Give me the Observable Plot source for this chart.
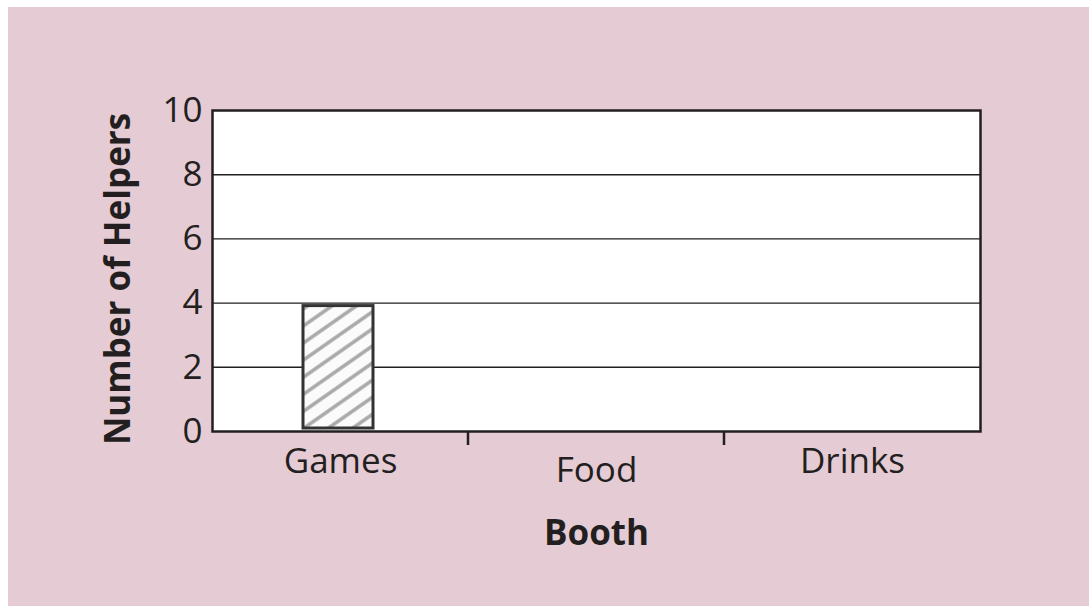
<!DOCTYPE html>
<html>
<head>
<meta charset="utf-8">
<script src="https://cdn.jsdelivr.net/npm/d3@7"></script>
<script src="https://cdn.jsdelivr.net/npm/@observablehq/plot@0.6"></script>
<style>
  html, body { margin: 0; padding: 0; background: #ffffff; }
  #wrap { position: relative; width: 1089px; height: 606px; overflow: hidden; background: #ffffff; }
  #panel { position: absolute; left: 8px; top: 7px; width: 1081px; height: 599px; background: #e5cbd4; }
  #chart { position: absolute; left: 0; top: 0; }
</style>
</head>
<body>
<div id="wrap"><div id="panel"></div><div id="chart"></div></div>
<script>
const booths = ["Games", "Food", "Drinks"];
const helpers = [4, null, null];
const yTicks = [0, 2, 4, 6, 8, 10];
const xTitle = "Booth";
const yTitle = "Number of Helpers";

const data = booths
  .map((b, i) => ({booth: b, helpers: helpers[i]}))
  .filter(d => d.helpers != null);

const ink = "#231f20";

function separators(index, scales, values, dims) {
  const g = d3.create("svg:g");
  const y0 = dims.height - dims.marginBottom;
  booths.slice(1).forEach(b => {
    const x = scales.x(b);
    g.append("line")
      .attr("x1", x).attr("x2", x)
      .attr("y1", y0).attr("y2", y0 + 14)
      .attr("stroke", ink).attr("stroke-width", 2.5);
  });
  return g.node();
}

const chart = Plot.plot({
  width: 1089,
  height: 606,
  marginLeft: 212,
  marginRight: 109,
  marginTop: 110,
  marginBottom: 175,
  style: {background: "transparent", fontFamily: "'Open Sans', sans-serif", color: ink, fontSize: "35px"},
  x: {domain: booths, padding: 0, label: null},
  y: {domain: [0, 10], label: null},
  marks: [
    Plot.frame({fill: "white", stroke: "none"}),
    Plot.gridY(yTicks.slice(1, -1), {stroke: ink, strokeOpacity: 1, strokeWidth: 1.4}),
    Plot.barY(data, {x: "booth", y: "helpers", insetLeft: 91, insetRight: 95, insetTop: 3, insetBottom: 3,
      fill: "url(#hatch)", stroke: "#333", strokeWidth: 3}),
    Plot.frame({stroke: ink, strokeWidth: 2.5}),
    separators,
    Plot.axisY({ticks: yTicks, tickSize: 0, tickPadding: 10, fontSize: 35, label: null}),
    Plot.axisX({ticks: ["Games", "Drinks"], tickSize: 0, tickPadding: 17, fontSize: 35, label: null}),
    Plot.axisX({ticks: ["Food"], tickSize: 0, tickPadding: 26, fontSize: 35, label: null}),
    Plot.text([yTitle], {frameAnchor: "left", textAnchor: "middle", lineAnchor: "middle", rotate: -90, dx: -94, dy: 8,
      fontWeight: "bold", fontSize: 35, fill: ink}),
    Plot.text([xTitle], {frameAnchor: "bottom", dy: 102, lineAnchor: "middle", fontWeight: "bold", fontSize: 35, fill: ink})
  ]
});

// hatch pattern for the bar
const ns = "http://www.w3.org/2000/svg";
const defs = document.createElementNS(ns, "defs");
const pat = document.createElementNS(ns, "pattern");
pat.setAttribute("id", "hatch");
pat.setAttribute("patternUnits", "userSpaceOnUse");
pat.setAttribute("width", "14");
pat.setAttribute("height", "14");
pat.setAttribute("patternTransform", "rotate(-35)");
const bg = document.createElementNS(ns, "rect");
bg.setAttribute("width", "14"); bg.setAttribute("height", "14"); bg.setAttribute("fill", "#fbfbfb");
const ln = document.createElementNS(ns, "line");
ln.setAttribute("x1", "0"); ln.setAttribute("x2", "14");
ln.setAttribute("y1", "7"); ln.setAttribute("y2", "7");
ln.setAttribute("stroke", "#a8a8a8"); ln.setAttribute("stroke-width", "3.5");
pat.appendChild(bg); pat.appendChild(ln); defs.appendChild(pat);
chart.insertBefore(defs, chart.firstChild);

document.getElementById("chart").appendChild(chart);
</script>
</body>
</html>
